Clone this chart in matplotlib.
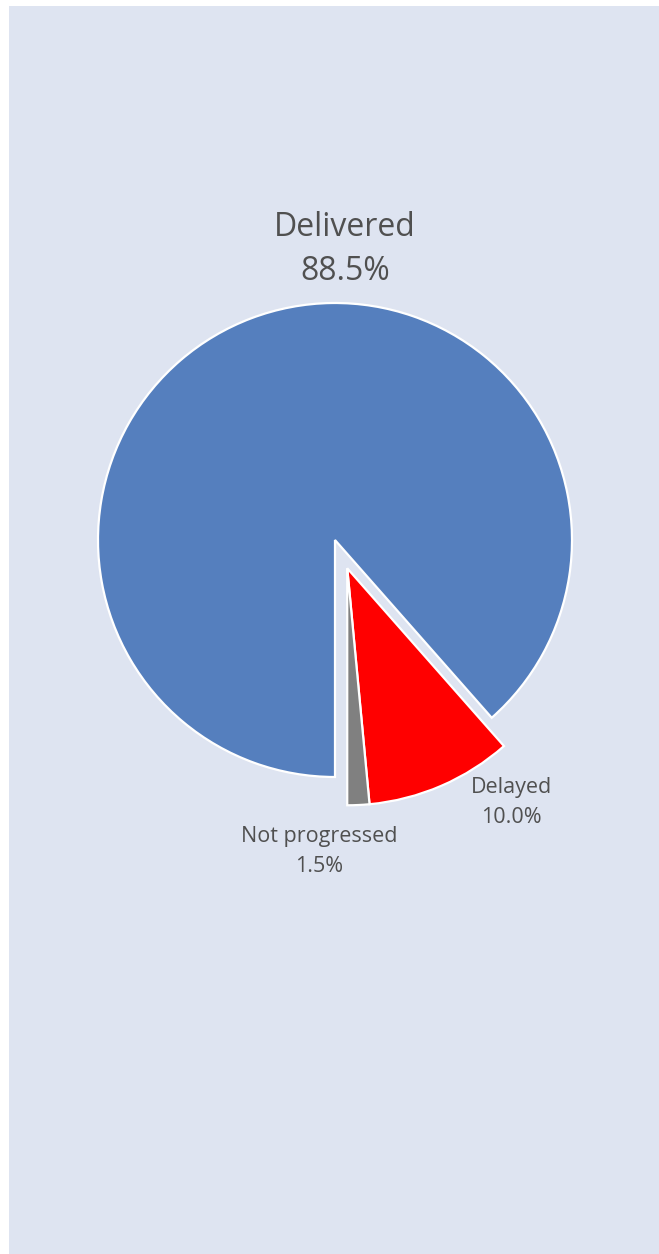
import matplotlib.pyplot as plt
from matplotlib.patches import Rectangle

categories = ['Delivered', 'Delayed', 'Not progressed']
shares = [88.5, 10.0, 1.5]
colors = ['#557fbe', '#ff0000', '#808080']
explode = [0.0, 0.13, 0.13]

# label positions in pie-radius units (centre of the two-line label)
label_pos = [(0.042, 1.226), (0.745, -1.107), (-0.065, -1.315)]
label_size = [23, 15.5, 15.5]
label_spacing = [1.44, 1.55, 1.55]

plt.rcParams['font.family'] = ['Open Sans', 'DejaVu Sans']

W, H = 659, 1254
R = 237.0
cx, cy = 335.0, 540.0

fig = plt.figure(figsize=(W / 100, H / 100), dpi=100, facecolor='white')
fig.patches.append(Rectangle((9 / W, 0), 1 - 9 / W, (H - 6) / H,
                             transform=fig.transFigure, facecolor='#dee4f1',
                             edgecolor='none', zorder=-10))

ax = fig.add_axes([0, 0, 1, 1])
ax.set_facecolor('none')
ax.set_zorder(5)

wedges, _ = ax.pie(shares, colors=colors, explode=explode, startangle=-90,
                   counterclock=False, radius=1.0,
                   wedgeprops=dict(edgecolor='white', linewidth=1.6))
# the small slice is pulled out together with the red one
wedges[2].set_center(wedges[1].center)

for name, val, (lx, ly), fs, ls in zip(categories, shares, label_pos,
                                       label_size, label_spacing):
    ax.text(lx, ly, f'{name}\n{val:.1f}%', ha='center', va='center',
            fontsize=fs, color='#505050', linespacing=ls)

ax.set_aspect('auto')
ax.set_xlim(-cx / R, (W - cx) / R)
ax.set_ylim(-(H - cy) / R, cy / R)
ax.axis('off')

fig.savefig('out.png', dpi=100, facecolor=fig.get_facecolor())
